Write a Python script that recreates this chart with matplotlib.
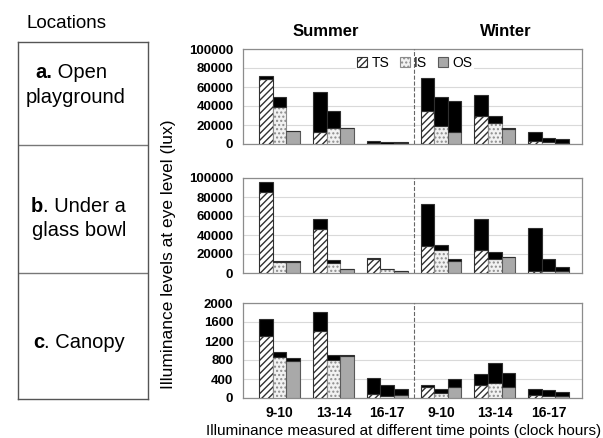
import numpy as np
import matplotlib
matplotlib.use("Agg")
import matplotlib.pyplot as plt
from matplotlib.patches import Patch

plt.rcParams['font.family'] = ['Liberation Sans', 'DejaVu Sans']
plt.rcParams['hatch.linewidth'] = 1.0

W, H = 603, 438

time_labels = ["9-10", "13-14", "16-17", "9-10", "13-14", "16-17"]
season_labels = ["Summer", "Winter"]
series_labels = ["TS", "IS", "OS"]

# a. open playground (lux): patterned part and top of black part
a_ts_base  = [68000, 12300,  600, 34500, 29200,  3200]
a_ts_total = [71500, 54600, 2800, 70000, 51400, 12300]
a_is_base  = [39400, 16500,  500, 18700, 22200,  2100]
a_is_total = [49300, 34900, 2100, 49300, 29200,  6000]
a_os_base  = [13400, 16500,  600, 12300, 15800,  1000]
a_os_total = [14100, 17300, 1800, 45000, 16500,  4900]

# b. under a glass bowl
b_ts_base  = [84900, 46700, 14700, 28800, 24600,  1800]
b_ts_total = [96100, 56800, 15800, 72600, 57200, 47400]
b_is_base  = [11900, 10200,  3900, 23900, 15100,  2100]
b_is_total = [12800, 14000,  4600, 29800, 22100, 15100]
b_os_base  = [12000,  3900,  2100, 13000, 16500,  2100]
b_os_total = [12300,  4600,  2500, 15100, 16800,  6300]

# c. canopy
c_ts_base  = [1298, 1404,  84, 239, 281,  56]
c_ts_total = [1663, 1804, 421, 267, 505, 190]
c_is_base  = [ 863,  800,  42,  98, 323,  42]
c_is_total = [ 975,  898, 267, 197, 737, 175]
c_os_base  = [ 772,  890,  56, 239, 239,  49]
c_os_total = [ 842,  898, 190, 407, 520, 133]

a_yticks = [0, 20000, 40000, 60000, 80000, 100000]
b_yticks = [0, 20000, 40000, 60000, 80000, 100000]
c_yticks = [0, 400, 800, 1200, 1600, 2000]

location_first = ["a.", "b", "c"]
location_rest = [" Open", ". Under a", ". Canopy"]
location_second = ["playground", "glass bowl", None]


def px_axes(fig, left, top, right, bottom):
  return fig.add_axes([left / W, 1 - bottom / H, (right - left) / W, (bottom - top) / H])


def draw_panel(ax, data, yticks, show_x):
  x = np.arange(len(time_labels))
  bw = 0.253
  styles = [
    dict(facecolor='white', edgecolor='#303030', hatch='/////'),
    dict(facecolor='#f2f2f2', edgecolor='#8c8c8c', hatch='....'),
    dict(facecolor='#a9a9a9', edgecolor='#5a5a5a', hatch=None),
  ]
  for i, (base, total) in enumerate(data):
    base = np.array(base)
    total = np.array(total)
    xs = x + (i - 1) * bw
    ax.bar(xs, base, bw, linewidth=0.8, zorder=3, **styles[i])
    ax.bar(xs, total - base, bw, bottom=base, color='black',
           edgecolor='#303030', linewidth=0.8, zorder=3)
  ax.set_xlim(-0.68, 5.62)
  ax.set_ylim(yticks[0], yticks[-1])
  ax.set_yticks(yticks)
  ax.set_yticklabels([str(t) for t in yticks], fontsize=9.5, fontweight='bold')
  ax.yaxis.grid(True, color='#d9d9d9', linewidth=0.8, zorder=0)
  ax.set_axisbelow(True)
  ax.axvline(2.5, color='#666666', linestyle='--', linewidth=0.8, zorder=6)
  ax.tick_params(axis='y', length=0, pad=7)
  ax.tick_params(axis='x', length=0, pad=6)
  ax.set_xticks(x)
  if show_x:
    ax.set_xticklabels(time_labels, fontsize=10, fontweight='bold')
  else:
    ax.set_xticklabels([])
  for s in ax.spines.values():
    s.set_color('#8c8c8c')
    s.set_linewidth(0.9)


fig = plt.figure(figsize=(W / 100, H / 100), dpi=100)

ax_a = px_axes(fig, 243, 49, 582, 144)
ax_b = px_axes(fig, 243, 178, 582, 273)
ax_c = px_axes(fig, 243, 303, 582, 398)

draw_panel(ax_a, [(a_ts_base, a_ts_total), (a_is_base, a_is_total), (a_os_base, a_os_total)], a_yticks, False)
draw_panel(ax_b, [(b_ts_base, b_ts_total), (b_is_base, b_is_total), (b_os_base, b_os_total)], b_yticks, False)
draw_panel(ax_c, [(c_ts_base, c_ts_total), (c_is_base, c_is_total), (c_os_base, c_os_total)], c_yticks, True)

handles = [
  Patch(facecolor='white', edgecolor='#303030', hatch='/////', linewidth=0.8),
  Patch(facecolor='#f2f2f2', edgecolor='#8c8c8c', hatch='....', linewidth=0.8),
  Patch(facecolor='#a9a9a9', edgecolor='#5a5a5a', linewidth=0.8),
]
leg = ax_a.legend(handles, series_labels, ncol=3, loc='center', bbox_to_anchor=(0.507, 0.853),
                  frameon=True, fontsize=10, handlelength=0.7, handleheight=0.7,
                  handletextpad=0.3, columnspacing=0.8, borderpad=0.1, borderaxespad=0)
leg.get_frame().set_facecolor('white')
leg.get_frame().set_edgecolor('none')
leg.get_frame().set_alpha(1)

# season titles
fig.text(326 / W, 1 - 31 / H, season_labels[0], ha='center', va='center', fontsize=12, fontweight='bold')
fig.text(506 / W, 1 - 31 / H, season_labels[1], ha='center', va='center', fontsize=12, fontweight='bold')

# axis titles
fig.text(168 / W, 1 - 254 / H, 'Illuminance levels at eye level (lux)', rotation=90,
         ha='center', va='center', fontsize=12.5)
fig.text(404 / W, 1 - 431 / H, 'Illuminance measured at different time points (clock hours)',
         ha='center', va='center', fontsize=11)

# locations column
fig.text(67 / W, 1 - 24 / H, 'Locations', ha='center', va='center', fontsize=13.5)
box = px_axes(fig, 18, 42, 148, 399)
box.set_xticks([])
box.set_yticks([])
box.set_xlim(0, 1)
box.set_ylim(399, 42)
for s in box.spines.values():
  s.set_color('#555555')
  s.set_linewidth(1.0)
box.axhline(145, color='#777777', linewidth=1.0)
box.axhline(273, color='#777777', linewidth=1.0)

line1_pos = [(35, 73), (31, 207), (33, 343)]
line2_pos = [(76, 98), (79, 230), None]
for i in range(3):
  lx, ly = line1_pos[i]
  t = fig.text(lx / W, 1 - ly / H, location_first[i], ha='left', va='center',
               fontsize=14.5, fontweight='bold')
  box.annotate(location_rest[i], xy=(1, 0), xycoords=t, ha='left', va='bottom', fontsize=14.5)
  if location_second[i] is not None:
    mx, my = line2_pos[i]
    fig.text(mx / W, 1 - my / H, location_second[i], ha='center', va='center', fontsize=14.5)

fig.savefig('out.png', dpi=100)
